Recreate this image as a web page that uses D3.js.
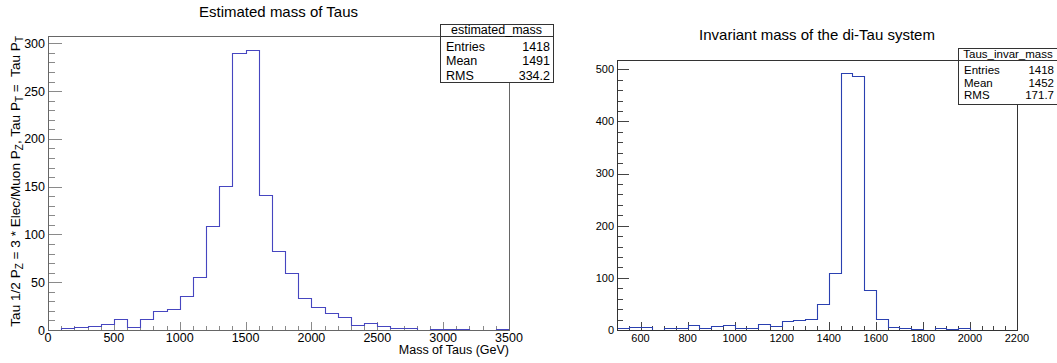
<!DOCTYPE html>
<html>
<head>
<meta charset="utf-8">
<script src="https://cdn.jsdelivr.net/npm/d3@7"></script>
<style>
  body { margin: 0; background: #fff; }
  svg { display: block; font-family: "Liberation Sans", Arial, sans-serif; }
</style>
</head>
<body>
<svg id="chart" width="1057" height="363"></svg>
<script>
// left histogram: estimated mass, 35 bins of 100 GeV from 0 to 3500
const massBinLow = d3.range(0, 3500, 100);
const massCounts = [0, 2, 3, 4, 6, 12, 3, 12, 20, 22, 36, 55, 109, 151, 290, 293, 141, 83, 60, 33,
                    24, 18, 14, 5, 7, 4, 2, 2, 0, 1, 1, 1, 0, 0, 1];
const massXTicks = [0, 500, 1000, 1500, 2000, 2500, 3000, 3500];
const massYTicks = [0, 50, 100, 150, 200, 250, 300];
const massStats = [["Entries", "1418"], ["Mean", "1491"], ["RMS", "334.2"]];

// right histogram: invariant mass, 34 bins of 50 GeV from 500 to 2200
const invarBinLow = d3.range(500, 2200, 50);
const invarCounts = [3, 6, 6, 0, 4, 4, 10, 4, 7, 9, 4, 4, 11, 8, 17, 19, 22, 49, 109, 493,
                     487, 76, 22, 6, 3, 2, 0, 3, 2, 3, 0, 0, 0, 0];
const invarXTicks = [600, 800, 1000, 1200, 1400, 1600, 1800, 2000, 2200];
const invarYTicks = [0, 100, 200, 300, 400, 500];
const invarStats = [["Entries", "1418"], ["Mean", "1452"], ["RMS", "171.7"]];

const svg = d3.select("#chart");

function drawHist(opt) {
    const x = d3.scaleLinear().domain(opt.xDomain).range([opt.left, opt.right]);
    const y = d3.scaleLinear().domain([0, d3.max(opt.counts) * 1.05]).range([opt.bottom, opt.top]);
    const g = svg.append("g");

    // minor + major ticks on x (pointing up into the frame)
    const xMinor = d3.range(opt.xDomain[0], opt.xDomain[1] + 1, opt.xMinorStep);
    g.selectAll(".xminor").data(xMinor).enter().append("line")
        .attr("x1", d => Math.round(x(d)) + 0.5).attr("x2", d => Math.round(x(d)) + 0.5)
        .attr("y1", opt.bottom).attr("y2", opt.bottom - opt.xTickLen / 2)
        .attr("stroke", opt.tickColor);
    g.selectAll(".xmajor").data(opt.xTicks).enter().append("line")
        .attr("x1", d => Math.round(x(d)) + 0.5).attr("x2", d => Math.round(x(d)) + 0.5)
        .attr("y1", opt.bottom).attr("y2", opt.bottom - opt.xTickLen)
        .attr("stroke", opt.tickColor);
    g.selectAll(".xlab").data(opt.xTicks).enter().append("text")
        .attr("x", d => x(d)).attr("y", opt.xLabelY)
        .attr("text-anchor", "middle")
        .style("font-size", opt.labelSize + "px")
        .text(d => d);

    // ticks on y (pointing right into the frame)
    const yTop = y.domain()[1];
    const yMinor = d3.range(0, yTop, opt.yMinorStep);
    g.selectAll(".yminor").data(yMinor).enter().append("line")
        .attr("y1", d => Math.round(y(d)) + 0.5).attr("y2", d => Math.round(y(d)) + 0.5)
        .attr("x1", opt.left).attr("x2", opt.left + opt.yTickLen / 2)
        .attr("stroke", opt.tickColor);
    g.selectAll(".ymajor").data(opt.yTicks).enter().append("line")
        .attr("y1", d => Math.round(y(d)) + 0.5).attr("y2", d => Math.round(y(d)) + 0.5)
        .attr("x1", opt.left).attr("x2", opt.left + opt.yTickLen)
        .attr("stroke", opt.tickColor);
    g.selectAll(".ylab").data(opt.yTicks).enter().append("text")
        .attr("x", opt.left - 3).attr("y", d => y(d))
        .attr("dy", "0.36em")
        .attr("text-anchor", "end")
        .style("font-size", opt.labelSize + "px")
        .text(d => d);

    // step outline of the histogram
    const pts = [];
    opt.binLow.forEach((lo, i) => {
        pts.push([x(lo), y(opt.counts[i])]);
        pts.push([x(lo + opt.binWidth), y(opt.counts[i])]);
    });
    g.append("path")
        .datum(pts)
        .attr("d", d3.line().x(d => Math.round(d[0]) + 0.5).y(d => Math.round(d[1]) + 0.5))
        .attr("fill", "none")
        .attr("stroke", opt.lineColor)
        .attr("stroke-width", 1.1);

    // frame
    g.append("rect")
        .attr("x", opt.left + 0.5).attr("y", opt.top + 0.5)
        .attr("width", opt.right - opt.left).attr("height", opt.bottom - opt.top)
        .attr("fill", "none")
        .attr("stroke", opt.frameColor);

    // title
    g.append("text")
        .attr("x", (opt.left + opt.right) / 2).attr("y", opt.titleY)
        .attr("text-anchor", "middle")
        .style("font-size", "15px")
        .text(opt.title);

    // stats box
    const b = opt.box;
    const sb = g.append("g");
    sb.append("rect")
        .attr("x", b.x + 0.5).attr("y", b.y + 0.5)
        .attr("width", b.w).attr("height", b.h)
        .attr("fill", "#fff").attr("stroke", "#333");
    sb.append("line")
        .attr("x1", b.x).attr("x2", b.x + b.w)
        .attr("y1", b.sep + 0.5).attr("y2", b.sep + 0.5)
        .attr("stroke", "#333");
    sb.append("text")
        .attr("x", b.x + b.w / 2).attr("y", b.titleBase)
        .attr("text-anchor", "middle")
        .style("font-size", b.font + "px")
        .text(b.name);
    sb.selectAll(".lab").data(opt.stats).enter().append("text")
        .attr("x", b.x + 6).attr("y", (d, i) => b.row0 + i * b.rowH)
        .style("font-size", b.font + "px")
        .text(d => d[0]);
    sb.selectAll(".val").data(opt.stats).enter().append("text")
        .attr("x", b.valX).attr("y", (d, i) => b.row0 + i * b.rowH)
        .attr("text-anchor", "end")
        .style("font-size", b.font + "px")
        .text(d => d[1]);

    return g;
}

drawHist({
    xDomain: [0, 3500], left: 48, right: 509, top: 36, bottom: 330,
    binLow: massBinLow, binWidth: 100, counts: massCounts,
    xTicks: massXTicks, yTicks: massYTicks, xMinorStep: 100, yMinorStep: 10,
    xTickLen: 8, yTickLen: 14, xLabelY: 342, labelSize: 12.5,
    tickColor: "#8a8a8a", frameColor: "#666", lineColor: "#4646c0",
    title: "Estimated mass of Taus", titleY: 17,
    stats: massStats,
    box: { x: 440, y: 24, w: 113, h: 58, sep: 36, titleBase: 34, name: "estimated_mass",
           row0: 50.5, rowH: 14.7, font: 12.5, valX: 550 }
});

drawHist({
    xDomain: [500, 2200], left: 617, right: 1017, top: 60, bottom: 330,
    binLow: invarBinLow, binWidth: 50, counts: invarCounts,
    xTicks: invarXTicks, yTicks: invarYTicks, xMinorStep: 50, yMinorStep: 20,
    xTickLen: 8, yTickLen: 12, xLabelY: 342, labelSize: 11,
    tickColor: "#444", frameColor: "#333", lineColor: "#2a40b0",
    title: "Invariant mass of the di-Tau system", titleY: 40,
    stats: invarStats,
    box: { x: 958, y: 48, w: 100, h: 56, sep: 60, titleBase: 58, name: "Taus_invar_mass",
           row0: 74, rowH: 12.6, font: 11.5, valX: 1054 }
});

// axis titles of the left plot
svg.append("text")
    .attr("x", 509).attr("y", 354)
    .attr("text-anchor", "end")
    .style("font-size", "12.5px")
    .text("Mass of Taus (GeV)");

const yTitle = svg.append("text")
    .attr("transform", "translate(20,36) rotate(-90)")
    .attr("text-anchor", "end")
    .style("white-space", "pre")
    .style("font-size", "13.6px");
const yTitleParts = [["Tau 1/2 P", false], ["Z", true], [" = 3 * Elec/Muon P", false], ["Z", true],
                     [", Tau P", false], ["T", true], [" =  Tau P", false], ["T", true]];
yTitleParts.forEach(p => {
    yTitle.append("tspan")
        .attr("baseline-shift", p[1] ? "-25%" : null)
        .style("font-size", p[1] ? "10px" : null)
        .text(p[0]);
});
</script>
</body>
</html>
